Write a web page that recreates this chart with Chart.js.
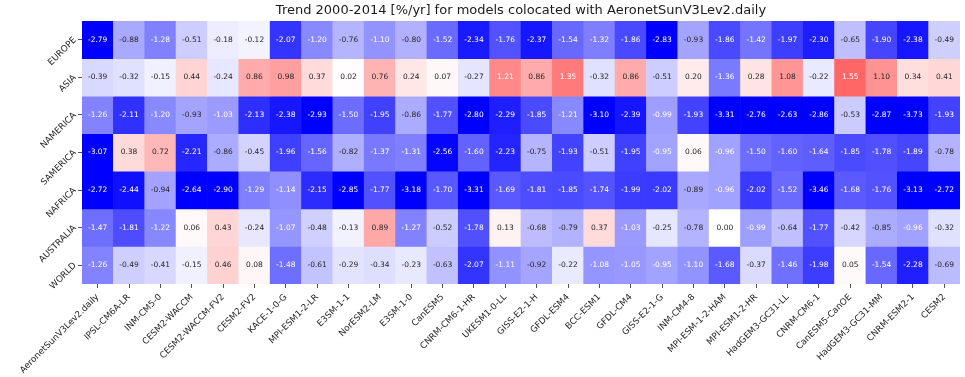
<!DOCTYPE html>
<html lang="en">
  <head>
    <meta charset="utf-8">
    <title>Trend 2000-2014</title>
    <style>
      html, body { margin: 0; padding: 0; background: #fff; }
      .graph { width: 965px; height: 377px; }
    </style>
  </head>
  <body>
    <div class="graph">
      <canvas id="myChart" width="965" height="377"></canvas>
    </div>

    <script src="https://cdn.jsdelivr.net/npm/chart.js@4/dist/chart.umd.min.js"></script>
    <script>
      var titleText = 'Trend 2000-2014 [%/yr] for models colocated with AeronetSunV3Lev2.daily';

      var regions = ['EUROPE', 'ASIA', 'NAMERICA', 'SAMERICA', 'NAFRICA', 'AUSTRALIA', 'WORLD'];

      var models = ['AeronetSunV3Lev2.daily', 'IPSL-CM6A-LR', 'INM-CM5-0', 'CESM2-WACCM',
        'CESM2-WACCM-FV2', 'CESM2-FV2', 'KACE-1-0-G', 'MPI-ESM1-2-LR', 'E3SM-1-1', 'NorESM2-LM',
        'E3SM-1-0', 'CanESM5', 'CNRM-CM6-1-HR', 'UKESM1-0-LL', 'GISS-E2-1-H', 'GFDL-ESM4',
        'BCC-ESM1', 'GFDL-CM4', 'GISS-E2-1-G', 'INM-CM4-8', 'MPI-ESM-1-2-HAM', 'MPI-ESM1-2-HR',
        'HadGEM3-GC31-LL', 'CNRM-CM6-1', 'CanESM5-CanOE', 'HadGEM3-GC31-MM', 'CNRM-ESM2-1', 'CESM2'];

      var europe = [-2.79, -0.88, -1.28, -0.51, -0.18, -0.12, -2.07, -1.20, -0.76, -1.10, -0.80, -1.52, -2.34, -1.76,
        -2.37, -1.54, -1.32, -1.86, -2.83, -0.93, -1.86, -1.42, -1.97, -2.30, -0.65, -1.90, -2.38, -0.49];
      var asia = [-0.39, -0.32, -0.15, 0.44, -0.24, 0.86, 0.98, 0.37, 0.02, 0.76, 0.24, 0.07, -0.27, 1.21,
        0.86, 1.35, -0.32, 0.86, -0.51, 0.20, -1.36, 0.28, 1.08, -0.22, 1.55, 1.10, 0.34, 0.41];
      var namerica = [-1.26, -2.11, -1.20, -0.93, -1.03, -2.13, -2.38, -2.93, -1.50, -1.95, -0.86, -1.77, -2.80, -2.29,
        -1.85, -1.21, -3.10, -2.39, -0.99, -1.93, -3.31, -2.76, -2.63, -2.86, -0.53, -2.87, -3.73, -1.93];
      var samerica = [-3.07, 0.38, 0.72, -2.21, -0.86, -0.45, -1.96, -1.56, -0.82, -1.37, -1.31, -2.56, -1.60, -2.23,
        -0.75, -1.93, -0.51, -1.95, -0.95, 0.06, -0.96, -1.50, -1.60, -1.64, -1.85, -1.78, -1.89, -0.78];
      var nafrica = [-2.72, -2.44, -0.94, -2.64, -2.90, -1.29, -1.14, -2.15, -2.85, -1.77, -3.18, -1.70, -3.31, -1.69,
        -1.81, -1.85, -1.74, -1.99, -2.02, -0.89, -0.96, -2.02, -1.52, -3.46, -1.68, -1.76, -3.13, -2.72];
      var australia = [-1.47, -1.81, -1.22, 0.06, 0.43, -0.24, -1.07, -0.48, -0.13, 0.89, -1.27, -0.52, -1.78, 0.13,
        -0.68, -0.79, 0.37, -1.03, -0.25, -0.78, 0.00, -0.99, -0.64, -1.77, -0.42, -0.85, -0.96, -0.32];
      var world = [-1.26, -0.49, -0.41, -0.15, 0.46, 0.08, -1.48, -0.61, -0.29, -0.34, -0.23, -0.63, -2.07, -1.11,
        -0.92, -0.22, -1.08, -1.05, -0.95, -1.10, -1.68, -0.37, -1.46, -1.98, 0.05, -1.54, -2.28, -0.69];

      var rowValues = [europe, asia, namerica, samerica, nafrica, australia, world];

      // colour scale limit (bwr, centred on 0)
      var vmax = 2.6;

      function bwr(v) {
        var t = Math.max(-1, Math.min(1, v / vmax));
        if (t < 0) {
          var c = Math.round(255 * (1 + t));
          return [c, c, 255];
        }
        var d = Math.round(255 * (1 - t));
        return [255, d, d];
      }

      function rgbStr(c) {
        return 'rgb(' + c[0] + ',' + c[1] + ',' + c[2] + ')';
      }

      // same rule seaborn uses to pick the annotation colour
      function textColor(c) {
        var w = [0.2126, 0.7152, 0.0722];
        var lum = 0;
        for (var i = 0; i < 3; i++) {
          var s = c[i] / 255;
          s = s <= 0.03928 ? s / 12.92 : Math.pow((s + 0.055) / 1.055, 2.4);
          lum += w[i] * s;
        }
        return lum > 0.408 ? '#262626' : '#ffffff';
      }

      var datasets = rowValues.map(function(vals, r) {
        return {
          label: regions[r],
          data: vals.map(function() { return [r, r + 1]; }),
          backgroundColor: vals.map(function(v) { return rgbStr(bwr(v)); }),
          borderWidth: 0,
          grouped: false,
          barPercentage: 1,
          categoryPercentage: 1
        };
      });

      var cellText = {
        id: 'cellText',
        afterDatasetsDraw: function(chart) {
          var ctx = chart.ctx;
          ctx.save();
          ctx.font = '7.5px "DejaVu Sans"';
          ctx.textAlign = 'center';
          ctx.textBaseline = 'middle';
          rowValues.forEach(function(vals, r) {
            var meta = chart.getDatasetMeta(r);
            meta.data.forEach(function(bar, c) {
              ctx.fillStyle = textColor(bwr(vals[c]));
              ctx.fillText(vals[c].toFixed(2), bar.x, (bar.y + bar.base) / 2);
            });
          });
          ctx.restore();
        }
      };

      var areaTitle = {
        id: 'areaTitle',
        afterDraw: function(chart) {
          var ctx = chart.ctx;
          var area = chart.chartArea;
          ctx.save();
          ctx.font = '13px "DejaVu Sans"';
          ctx.fillStyle = '#1a1a1a';
          ctx.textAlign = 'center';
          ctx.textBaseline = 'middle';
          ctx.fillText(titleText, (area.left + area.right) / 2, 11);
          ctx.restore();
        }
      };

      var ctx = document.getElementById('myChart').getContext('2d');
      var myChart = new Chart(ctx, {
        type: 'bar',
        data: {
          labels: models,
          datasets: datasets
        },
        options: {
          responsive: false,
          animation: false,
          events: [],
          layout: { padding: { top: 21, right: 5, left: 0, bottom: 0 } },
          plugins: {
            legend: { display: false },
            tooltip: { enabled: false },
            title: { display: false }
          },
          scales: {
            x: {
              type: 'category',
              border: { display: false },
              grid: { offset: false, drawOnChartArea: false, tickLength: 4, color: '#555' },
              ticks: {
                minRotation: 45, maxRotation: 45, autoSkip: false, padding: 4,
                color: '#262626', font: { family: 'DejaVu Sans', size: 8.8 }
              },
              afterFit: function(axis) {
                axis.height = 93;
                axis.paddingLeft = 0;
                axis.paddingRight = 0;
              }
            },
            y: {
              type: 'linear',
              min: 0,
              max: 7,
              reverse: true,
              border: { display: false },
              grid: { drawOnChartArea: false, tickLength: 4, color: '#555' },
              afterBuildTicks: function(axis) {
                axis.ticks = regions.map(function(r, i) { return { value: i + 0.5 }; });
              },
              ticks: {
                minRotation: 45, maxRotation: 45, padding: 3, labelOffset: -1,
                color: '#262626', font: { family: 'DejaVu Sans', size: 8.8 },
                callback: function(value, index) { return regions[index]; }
              },
              afterFit: function(axis) {
                axis.width = 82;
                axis.paddingTop = 0;
                axis.paddingBottom = 0;
              }
            }
          }
        },
        plugins: [cellText, areaTitle]
      });
    </script>
  </body>
</html>
